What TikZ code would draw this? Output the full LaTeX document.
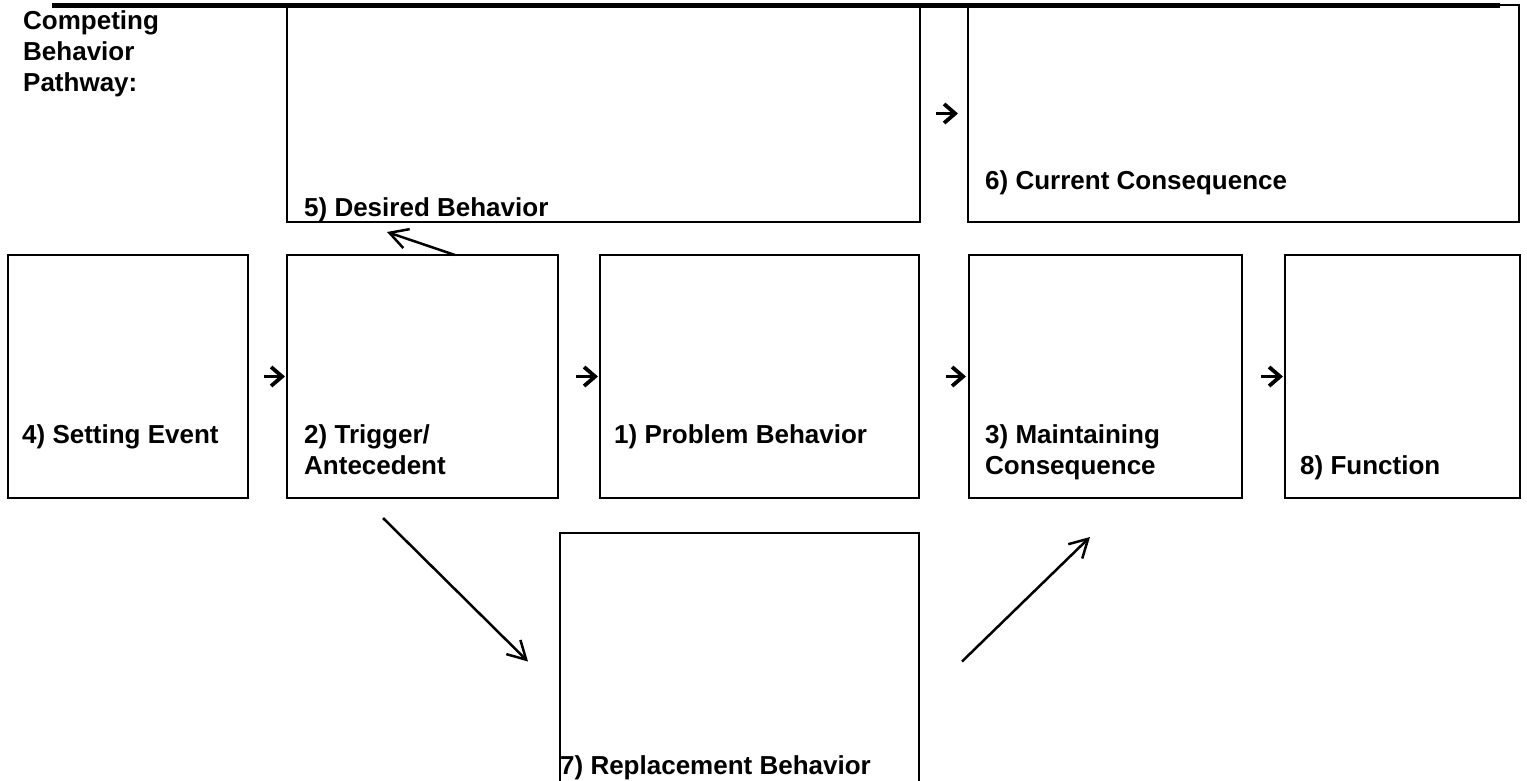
\documentclass[tikz,border=0pt]{standalone}
\usepackage{fontspec}
\setmainfont{Liberation Sans}
\usetikzlibrary{arrows.meta}
\tikzset{
  box/.style={draw, line width=2.5pt, inner sep=0pt, outer sep=0pt, anchor=north west},
  lbl/.style={anchor=base west, align=left, inner sep=0pt,
              font=\fontsize{26}{31}\selectfont\bfseries},
  diag/.style={line width=2.5pt, -{Straight Barb[length=18pt,width=20pt]}},
  tick/.style={line width=3.8pt, -{Straight Barb[length=11pt,width=19pt]}}
}
\begin{document}
\begin{tikzpicture}[x=1pt,y=-1pt]
  \useasboundingbox (0,0) rectangle (1527,780);
  % top row
  \node[box, minimum width=633, minimum height=217] (desired) at (287,5) {};
  \node[box, minimum width=551, minimum height=217] (current) at (968,5) {};
  \draw[line width=5pt] (52,5) -- (1500,5);
  % middle row
  \node[box, minimum width=240, minimum height=243] (setting) at (8,255) {};
  \node[box, minimum width=271, minimum height=243] (trig) at (287,255) {};
  \node[box, minimum width=319, minimum height=243] (prob) at (600,255) {};
  \node[box, minimum width=273, minimum height=243] (maint) at (969,255) {};
  \node[box, minimum width=235, minimum height=243] (func) at (1285,255) {};
  % bottom row
  \node[box, minimum width=359, minimum height=257] (repl) at (560,533) {};

  \node[lbl] (pathway) at (23,91) {Competing\\Behavior\\Pathway:};
  \node[lbl] at (304,216) {5) Desired Behavior};
  \node[lbl] at (985,189) {6) Current Consequence};
  \node[lbl] at (22,443) {4) Setting Event};
  \node[lbl] at (304,474) {2) Trigger/\\Antecedent};
  \node[lbl] at (614,443) {1) Problem Behavior};
  \node[lbl] at (985,474) {3) Maintaining\\Consequence};
  \node[lbl] at (1300,474) {8) Function};
  \node[lbl] at (560,774) {7) Replacement Behavior};

  % small arrows between boxes
  \draw[tick] ([xshift=-32]current.west) -- ([xshift=-10]current.west);
  \draw[tick] ([xshift=-23]trig.west) -- ([xshift=-2]trig.west);
  \draw[tick] ([xshift=-24]prob.west) -- ([xshift=-2]prob.west);
  \draw[tick] ([xshift=-23]maint.west) -- ([xshift=-3]maint.west);
  \draw[tick] ([xshift=-24]func.west) -- ([xshift=-2]func.west);

  % pathway arrows
  \coordinate (dtip) at (387,232);
  \draw[diag] ([xshift=32.5]trig.north) -- (dtip);
  \draw[diag] ([xshift=-39.5,yshift=-20]trig.south) -- ([xshift=-32]repl.west);
  \draw[diag] ([xshift=43]repl.east) -- ([xshift=-15.5,yshift=-39]maint.south);
\end{tikzpicture}
\end{document}
